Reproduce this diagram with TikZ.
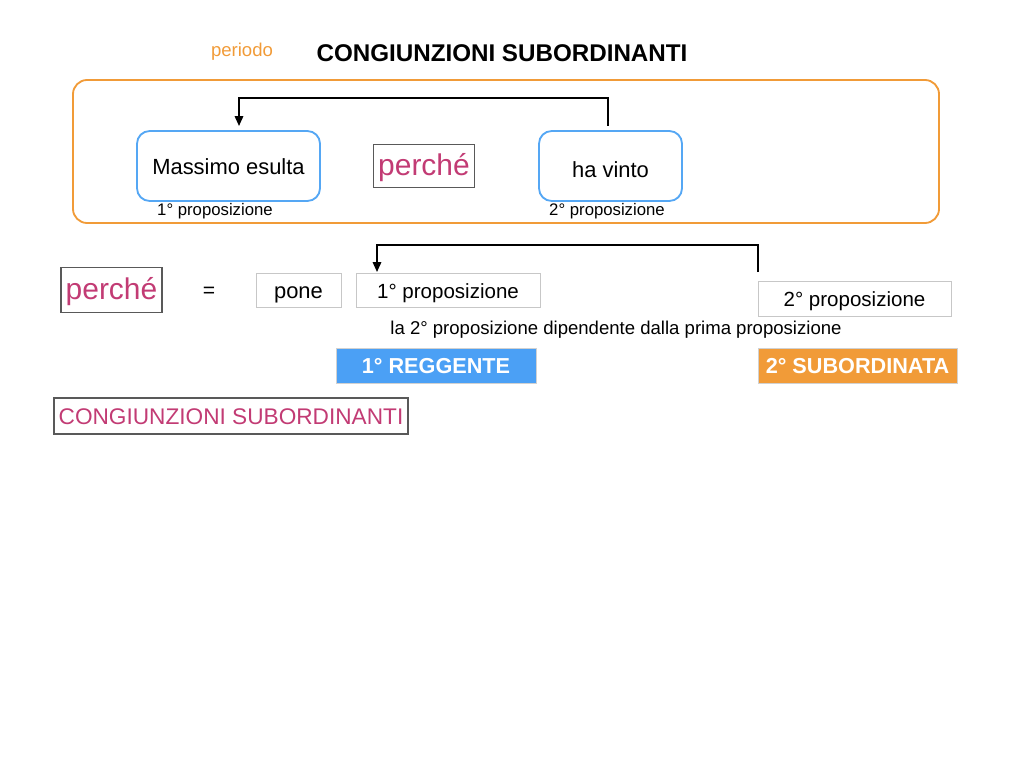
\documentclass[tikz,border=0pt]{standalone}
\usepackage{fontspec}
\setmainfont{Liberation Sans}
\usepackage{tikz}
\usetikzlibrary{shapes.geometric, arrows.meta, positioning}
\definecolor{periodorange}{HTML}{F19B38}
\definecolor{propblue}{HTML}{55A7F4}
\definecolor{regblue}{HTML}{4BA0F5}
\definecolor{subpink}{HTML}{C23B74}
\newcommand{\pxu}{0.025cm}
\tikzstyle{frame} =
[rectangle, rounded corners = 10pt, draw=periodorange, line width = 1.3pt]
\tikzstyle{prop} =
[rectangle, rounded corners = 9pt, minimum height = 70*\pxu, inner sep = 0pt,
text height = 12.8pt, text depth = 0pt, text centered, draw=propblue,
line width = 1.3pt, font=\fontsize{15.6}{18}\selectfont]
\tikzstyle{conj} =
[rectangle, minimum height = 43*\pxu, minimum width = 101*\pxu, inner sep = 0pt,
text height = 14pt, text depth = 0pt, text centered, draw=black!65,
line width = 0.8pt, text=subpink, font=\fontsize{21.3}{24}\selectfont]
\tikzstyle{word} =
[rectangle, minimum height = 34*\pxu, inner sep = 0pt, text height = 12pt,
text depth = 0pt, text centered, draw=black!22, line width = 0.6pt]
\tikzstyle{role} =
[rectangle, minimum height = 35*\pxu, minimum width = 200*\pxu, inner sep = 0pt,
text height = 12pt, text depth = 0pt, text centered, draw=black!18,
line width = 0.6pt, text=white, font=\fontsize{15.4}{18}\selectfont\bfseries]
\tikzstyle{small} = [inner sep = 0pt, font=\fontsize{11.9}{14}\selectfont]
\tikzstyle{line} = [draw, line width = 1.2pt, -{Triangle[length=7pt, width=6pt]}]

\begin{document}
\begin{tikzpicture}[x=0.025cm, y=-0.025cm]
  \useasboundingbox (0,0) rectangle (1024,768);
  % title
  \node [small, anchor=base, text=periodorange, font=\fontsize{13.2}{15}\selectfont]
   (periodo) at (242,56.5) {periodo};
  \node [inner sep=0pt, anchor=base, font=\fontsize{17.2}{20}\selectfont\bfseries]
   (title) at (502,61.5) {CONGIUNZIONI SUBORDINANTI};
  %
  % 1st level nodes
  \draw [frame] (73,80) rectangle (939,223);
  \node [prop, minimum width = 183*\pxu] (massimo) at (228.5,166) {Massimo esulta};
  \node [conj] (perche) at (424,166) {perch\'e};
  \node [prop, minimum width = 143*\pxu, text height = 17pt] (havinto)
   at (610.5,166) {ha vinto};
  \node [small] (lprima) at (215,211) {1° proposizione};
  \node [small] (lseconda) at (607,211) {2° proposizione};
  % 1st level edges
  \coordinate (from1) at (608,126);
  \coordinate (to1) at (239,126);
  \path [line] (from1) -- ++(0,-28) -| (to1);
  %
  % 2nd level nodes
  \node [conj, minimum height = 45*\pxu, text height = 13.2pt] (perchebis)
   at (111.5,290) {perch\'e};
  \node [inner sep=0pt, font=\fontsize{15}{18}\selectfont] (eq) at (209,292) {=};
  \node [word, minimum width = 85*\pxu, font=\fontsize{15.6}{18}\selectfont]
   (pone) at (298.5,290) {pone};
  \node [word, minimum width = 184*\pxu, font=\fontsize{14.6}{17}\selectfont]
   (prima) at (448,290) {1° proposizione};
  \node [word, minimum width = 193*\pxu, minimum height = 35*\pxu,
   font=\fontsize{14.6}{17}\selectfont] (seconda) at (854.5,298.5)
   {2° proposizione};
  \node [inner sep=0pt, font=\fontsize{13.2}{15}\selectfont] (nota) at (616,329.5)
   {la 2° proposizione dipendente dalla prima proposizione};
  % 2nd level edges
  \coordinate (from2) at (758,272);
  \coordinate (to2) at (377,272);
  \path [line] (from2) -- ++(0,-27) -| (to2);
  %
  % 3rd level nodes
  \node [role, fill=regblue] (reggente) at (436,365.5) {1° REGGENTE};
  \node [role, fill=periodorange, minimum width = 199*\pxu] (subordinata)
   at (857.5,365.5) {2° SUBORDINATA};
  \node [rectangle, minimum width = 354*\pxu, minimum height = 36*\pxu,
   inner sep = 0pt, text height = 11.8pt, text depth = 0pt, draw=black!65,
   line width = 0.8pt, text=subpink, font=\fontsize{16.1}{19}\selectfont]
   (congiunzioni) at (231,416) {CONGIUNZIONI SUBORDINANTI};
\end{tikzpicture}
\end{document}
